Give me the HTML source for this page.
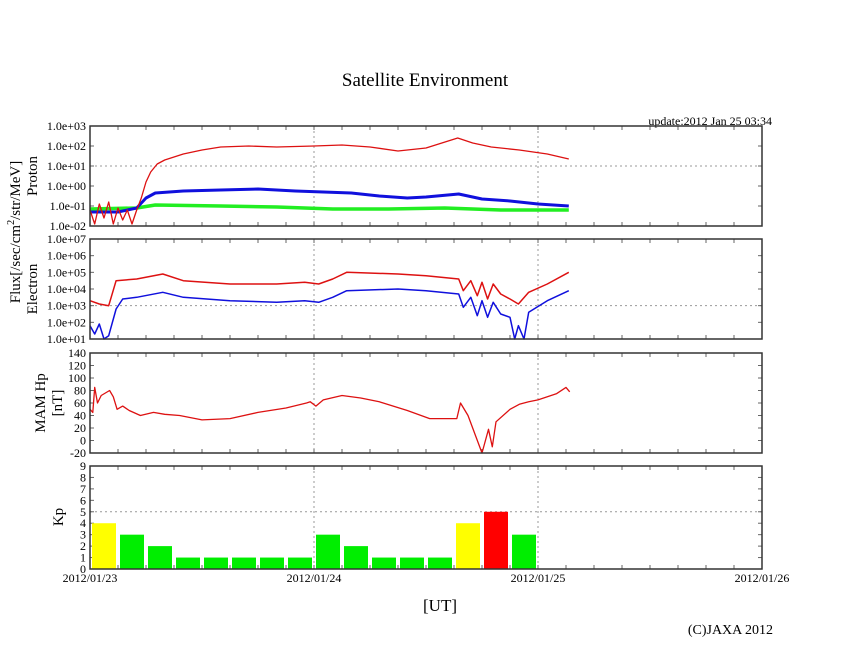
<!DOCTYPE html>
<html><head><meta charset="utf-8"><style>
body{margin:0;background:#fff;}
svg{display:block;font-family:"Liberation Serif",serif;}
</style></head><body>
<svg id="c" width="846" height="655" xmlns="http://www.w3.org/2000/svg">
<text x="425" y="86" font-size="19" text-anchor="middle">Satellite Environment</text>
<text x="772" y="125" font-size="12" text-anchor="end">update:2012 Jan 25 03:34</text>
<text x="440" y="611" font-size="17" text-anchor="middle">[UT]</text>
<text x="773" y="634" font-size="14" text-anchor="end">(C)JAXA 2012</text>
<text transform="translate(20,232) rotate(-90)" font-size="15" text-anchor="middle">Flux[/sec/cm<tspan font-size="10" dy="-6">2</tspan><tspan dy="6">/str/MeV]</tspan></text>
<text transform="translate(37,176) rotate(-90)" font-size="15" text-anchor="middle">Proton</text>
<text transform="translate(37,289) rotate(-90)" font-size="15" text-anchor="middle">Electron</text>
<text transform="translate(45,403) rotate(-90)" font-size="15" text-anchor="middle">MAM Hp</text>
<text transform="translate(62,403) rotate(-90)" font-size="15" text-anchor="middle">[nT]</text>
<text transform="translate(63,517) rotate(-90)" font-size="15" text-anchor="middle">Kp</text>
</svg>
<script>
// time in hours since 2012/01/23 00:00
const xDays = ["2012/01/23","2012/01/24","2012/01/25","2012/01/26"];
const protonRedT = [0,0.5,1,1.5,2,2.5,3,3.5,4,4.5,5,5.5,6,6.5,7.2,8,10,12,14,17,20,24,27,30,33,36,39.4,41,43,46,49,51.3];
const protonRedV = [-1.2,-1.9,-0.9,-1.6,-0.8,-1.9,-1.1,-1.7,-1.2,-1.9,-1.2,-0.6,0.2,0.7,1.1,1.3,1.6,1.8,1.95,2.0,1.95,2.0,2.05,1.95,1.75,1.9,2.4,2.15,1.95,1.8,1.6,1.35];
const protonBlueT = [0,3,5,6,7,10,14,18,22,25,28,31,34,36,39.5,42,45,48,51.3];
const protonBlueV = [-1.3,-1.3,-1.1,-0.6,-0.35,-0.25,-0.2,-0.15,-0.25,-0.3,-0.35,-0.5,-0.6,-0.55,-0.4,-0.65,-0.75,-0.9,-1.0];
const protonGreenT = [0,5,7,14,20,26,32,38,44,51.3];
const protonGreenV = [-1.15,-1.1,-0.95,-1.0,-1.05,-1.15,-1.15,-1.1,-1.2,-1.2];
const elecRedT = [0,1,2,2.8,5,7.8,10,15,20,23,24.5,26,27.5,33,36,39.5,40,40.8,41.5,42,42.6,43.2,44,45,45.9,47,49,51.3];
const elecRedV = [3.3,3.1,3.0,4.5,4.6,4.9,4.5,4.3,4.3,4.4,4.3,4.6,5.0,4.9,4.8,4.6,3.9,4.5,3.6,4.4,3.4,4.3,3.7,3.4,3.1,3.8,4.3,5.0];
const elecBlueT = [0,0.5,1,1.5,2,2.8,3.5,5,7.8,10,15,20,23,24.5,26,27.5,33,36,39.5,40,40.8,41.5,42,42.6,43.2,44,45,45.5,45.9,46.5,47,49,51.3];
const elecBlueV = [1.8,1.3,1.9,1.0,1.2,2.8,3.4,3.5,3.8,3.5,3.3,3.2,3.3,3.2,3.5,3.9,4.0,3.9,3.7,2.9,3.5,2.4,3.3,2.3,3.2,2.5,2.3,1.0,1.8,1.0,2.6,3.3,3.9];
const mamT = [0,0.3,0.5,0.8,1.2,2.1,2.5,2.9,3.5,4.2,5.4,6.8,8,9.6,12,15,18,21,23.2,23.6,24.2,25,27,29,31,34,36.4,39.3,39.7,40.5,42,42.7,43.1,43.5,45,46,47,48,50,51,51.4];
const mamV = [50,45,85,60,72,80,70,50,55,48,40,45,42,40,33,35,45,52,60,62,55,65,72,68,62,48,35,35,60,40,-20,18,-10,30,50,58,62,65,75,85,78];
const kpVals = [4,3,2,1,1,1,1,1,3,2,1,1,1,4,5,3];

const svg = document.getElementById('c');
const NS = 'http://www.w3.org/2000/svg';
const X0 = 90, X1 = 762, HOURS = 72;
const xs = h => X0 + (X1 - X0) * h / HOURS;
function el(tag, attrs, parent) {
  const e = document.createElementNS(NS, tag);
  for (const k in attrs) e.setAttribute(k, attrs[k]);
  (parent || svg).appendChild(e);
  return e;
}
function panel(name, top, bot, ymin, ymax, ticks, labels, gridVals) {
  const ys = v => bot - (bot - top) * (v - ymin) / (ymax - ymin);
  const g = el('g', {});
  
  
  [24, 48].forEach(h => {
    const l = el('line', {x1: xs(h), x2: xs(h), y1: top, y2: bot, stroke: '#999', 'stroke-dasharray': '2,3'}, g);
    
    
  });
  gridVals.forEach(v => {
    const l = el('line', {x1: X0, x2: X1, y1: ys(v), y2: ys(v), stroke: '#999', 'stroke-dasharray': '2,3'}, g);
    
    
  });
  for (let h = 3; h < HOURS; h += 3) {
    el('line', {x1: xs(h), x2: xs(h), y1: top, y2: top + 4, stroke: '#666'}, g);
    el('line', {x1: xs(h), x2: xs(h), y1: bot, y2: bot - 4, stroke: '#666'}, g);
  }
  ticks.forEach((v, i) => {
    el('line', {x1: X0, x2: X0 + 4, y1: ys(v), y2: ys(v), stroke: '#666'}, g);
    el('line', {x1: X1, x2: X1 - 4, y1: ys(v), y2: ys(v), stroke: '#666'}, g);
    const t = el('text', {x: 86, y: ys(v) + 4, 'font-size': 12, 'text-anchor': 'end'}, g);
    t.textContent = labels[i];
    
    
  });
  return {g, ys, top, bot};
}
function line(p, T, V, color, w, name) {
  const d = T.map((t, i) => (i ? 'L' : 'M') + xs(t).toFixed(1) + ',' + p.ys(V[i]).toFixed(1)).join('');
  const path = el('path', {d, fill: 'none', stroke: color, 'stroke-width': w, 'stroke-linejoin': 'round'}, p.g);
  
  
}
function frame(p, name) {
  const r = el('rect', {x: X0, y: p.top, width: X1 - X0, height: p.bot - p.top, fill: 'none', stroke: '#333', 'stroke-width': 1.5}, p.g);
  
  
}
const protonTicks = [-2,-1,0,1,2,3];
const protonLabels = ["1.0e-02","1.0e-01","1.0e+00","1.0e+01","1.0e+02","1.0e+03"];
const pp = panel('proton', 126, 226, -2, 3, protonTicks, protonLabels, [1]);
line(pp, protonGreenT, protonGreenV, '#22ee22', 3.5, 'proton-green-series');
line(pp, protonBlueT, protonBlueV, '#1010dd', 3, 'proton-blue-series');
line(pp, protonRedT, protonRedV, '#dd1111', 1.3, 'proton-red-series');
frame(pp, 'proton');

const elecTicks = [1,2,3,4,5,6,7];
const elecLabels = ["1.0e+01","1.0e+02","1.0e+03","1.0e+04","1.0e+05","1.0e+06","1.0e+07"];
const pe = panel('electron', 239, 339, 1, 7, elecTicks, elecLabels, [3]);
line(pe, elecBlueT, elecBlueV, '#1010dd', 1.5, 'electron-blue-series');
line(pe, elecRedT, elecRedV, '#dd1111', 1.5, 'electron-red-series');
frame(pe, 'electron');

const mamTicks = [-20,0,20,40,60,80,100,120,140];
const pm = panel('mam', 353, 453, -20, 140, mamTicks, mamTicks.map(String), []);
line(pm, mamT, mamV, '#dd1111', 1.3, 'mam-hp-series');
frame(pm, 'mam');

const kpTicks = [0,1,2,3,4,5,6,7,8,9];
const pk = panel('kp', 466, 569, 0, 9, kpTicks, kpTicks.map(String), [5]);
kpVals.forEach((v, i) => {
  const x0 = xs(i * 3) + 2, x1 = xs(i * 3 + 3) - 2;
  const color = v >= 5 ? '#ff0000' : (v === 4 ? '#ffff00' : '#00ee00');
  const r = el('rect', {x: x0, y: pk.ys(v), width: x1 - x0, height: pk.ys(0) - pk.ys(v), fill: color}, pk.g);
  
  
});
frame(pk, 'kp');

xDays.forEach((d, i) => {
  const t = el('text', {x: xs(i * 24), y: 582, 'font-size': 12, 'text-anchor': 'middle'});
  t.textContent = d;
  
  
});
</script>
</body></html>
